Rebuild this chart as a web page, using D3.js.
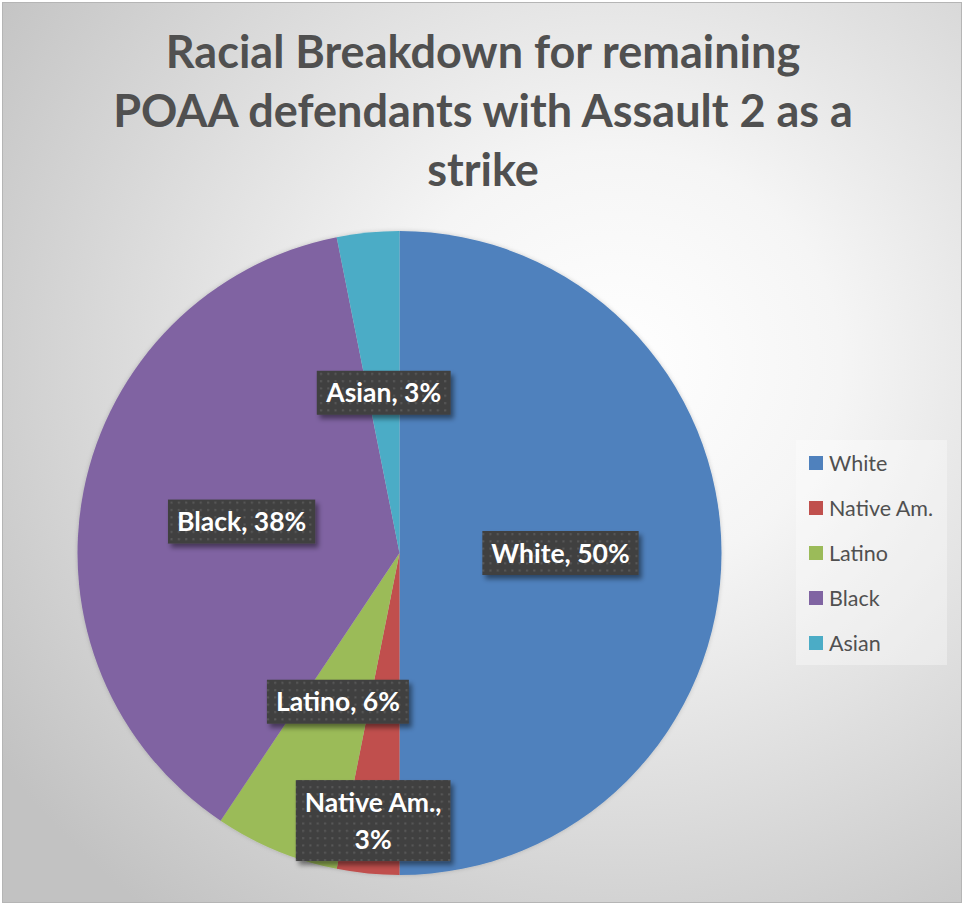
<!DOCTYPE html>
<html>
<head>
<meta charset="utf-8">
<script src="https://cdn.jsdelivr.net/npm/d3@7"></script>
<style>
  html, body { margin: 0; padding: 0; background: #fff; }
  svg { display: block; }
</style>
</head>
<body>
<svg id="chart" width="964" height="905"></svg>
<script>
// ---- data ----
const categories = ["White", "Native Am.", "Latino", "Black", "Asian"];
const counts = [16, 1, 2, 12, 1];
const colors = ["#4f81bd", "#c0504d", "#9bbb59", "#8064a2", "#4bacc6"];
const titleLines = ["Racial Breakdown for remaining", "POAA defendants with Assault 2 as a", "strike"];

const W = 964, H = 905;
const svg = d3.select("#chart");
const defs = svg.append("defs");

// background radial gradient
const grad = defs.append("radialGradient").attr("id", "bg")
  .attr("cx", "64%").attr("cy", "40%").attr("r", "78%");
grad.append("stop").attr("offset", "0%").attr("stop-color", "#ffffff");
grad.append("stop").attr("offset", "30%").attr("stop-color", "#f5f5f5");
grad.append("stop").attr("offset", "100%").attr("stop-color", "#c2c2c2");

// dotted pattern for label boxes
const pat = defs.append("pattern").attr("id", "dots")
  .attr("patternUnits", "userSpaceOnUse").attr("width", 7.3).attr("height", 7.3);
pat.append("rect").attr("width", 7.3).attr("height", 7.3).attr("fill", "#404040");
pat.append("rect").attr("x", 2).attr("y", 2).attr("width", 2).attr("height", 2).attr("fill", "#5a5a5a");

const shadow = defs.append("filter").attr("id", "shadow")
  .attr("x", "-20%").attr("y", "-20%").attr("width", "150%").attr("height", "160%");
shadow.append("feDropShadow").attr("dx", 3).attr("dy", 4).attr("stdDeviation", 2.5)
  .attr("flood-color", "#000").attr("flood-opacity", 0.45);

const pieShadow = defs.append("filter").attr("id", "pieShadow")
  .attr("x", "-10%").attr("y", "-10%").attr("width", "120%").attr("height", "120%");
pieShadow.append("feDropShadow").attr("dx", 0).attr("dy", 0).attr("stdDeviation", 2)
  .attr("flood-color", "#000").attr("flood-opacity", 0.18);

svg.append("rect").attr("x", 0).attr("y", 0).attr("width", W).attr("height", H).attr("fill", "#fff");
svg.append("rect").attr("x", 2.5).attr("y", 2.5).attr("width", W - 5).attr("height", H - 5)
  .attr("fill", "url(#bg)").attr("stroke", "#b5b5b5").attr("stroke-width", 1);

// title
const title = svg.append("text")
  .attr("text-anchor", "middle")
  .attr("font-family", "Lato, 'Open Sans', sans-serif")
  .attr("font-weight", "bold")
  .attr("font-size", 45)
  .attr("fill", "#505050");
const titleY = [68, 127, 186];
titleLines.forEach((t, i) => {
  title.append("tspan").attr("x", 483).attr("y", titleY[i]).text(t);
});

// pie
const cx = 399.5, cy = 553, R = 322;
const pie = d3.pie().sort(null).value(d => d.v);
const data = categories.map((c, i) => ({ c, v: counts[i], color: colors[i] }));
const arcs = pie(data);
const total = d3.sum(counts);
const arc = d3.arc().innerRadius(0).outerRadius(R);

const g = svg.append("g").attr("transform", `translate(${cx},${cy})`);
g.append("g").attr("filter", "url(#pieShadow)")
  .selectAll("path").data(arcs).join("path")
  .attr("d", arc).attr("fill", d => d.data.color);

// labels
const labelArc = d3.arc().innerRadius(R * 0.5).outerRadius(R * 0.5);
const pushedArc = d3.arc().innerRadius(R * 0.835).outerRadius(R * 0.835);
const labelFont = 26.5;
arcs.forEach((a, i) => {
  const pct = Math.round(a.data.v / total * 100) + "%";
  const twoLine = a.data.c === "Native Am.";
  const [lx, ly] = (twoLine ? pushedArc : labelArc).centroid(a);
  const lg = g.append("g").attr("transform", `translate(${lx},${ly})`);
  const box = lg.append("rect").attr("fill", "url(#dots)").attr("filter", "url(#shadow)");
  const txt = lg.append("text")
    .attr("text-anchor", "middle")
    .attr("font-family", "Lato, 'Open Sans', sans-serif")
    .attr("font-weight", "bold")
    .attr("font-size", labelFont)
    .attr("fill", "#ffffff");
  let lines = twoLine ? [a.data.c + ",", pct] : [a.data.c + ", " + pct];
  const lh = 37;
  lines.forEach((l, j) => {
    txt.append("tspan").attr("x", 0)
      .attr("y", (j - (lines.length - 1) / 2) * lh + labelFont * 0.36)
      .text(l);
  });
  const bb = txt.node().getBBox();
  const w = bb.width + 18;
  const h = (lines.length - 1) * lh + 44;
  box.attr("x", -w / 2).attr("y", -h / 2).attr("width", w).attr("height", h);
});

// legend
const lgX = 796, lgY = 440;
svg.append("rect").attr("x", lgX).attr("y", lgY).attr("width", 151).attr("height", 225)
  .attr("fill", "#ffffff").attr("fill-opacity", 0.35);
const legend = svg.append("g");
categories.forEach((c, i) => {
  const y = 463 + i * 45;
  legend.append("rect").attr("x", 809).attr("y", y - 7).attr("width", 14).attr("height", 14)
    .attr("fill", colors[i]);
  legend.append("text").attr("x", 829).attr("y", y + 7.5)
    .attr("font-family", "Lato, 'Open Sans', sans-serif")
    .attr("font-size", 21.5)
    .attr("fill", "#505050")
    .text(c);
});
</script>
</body>
</html>
